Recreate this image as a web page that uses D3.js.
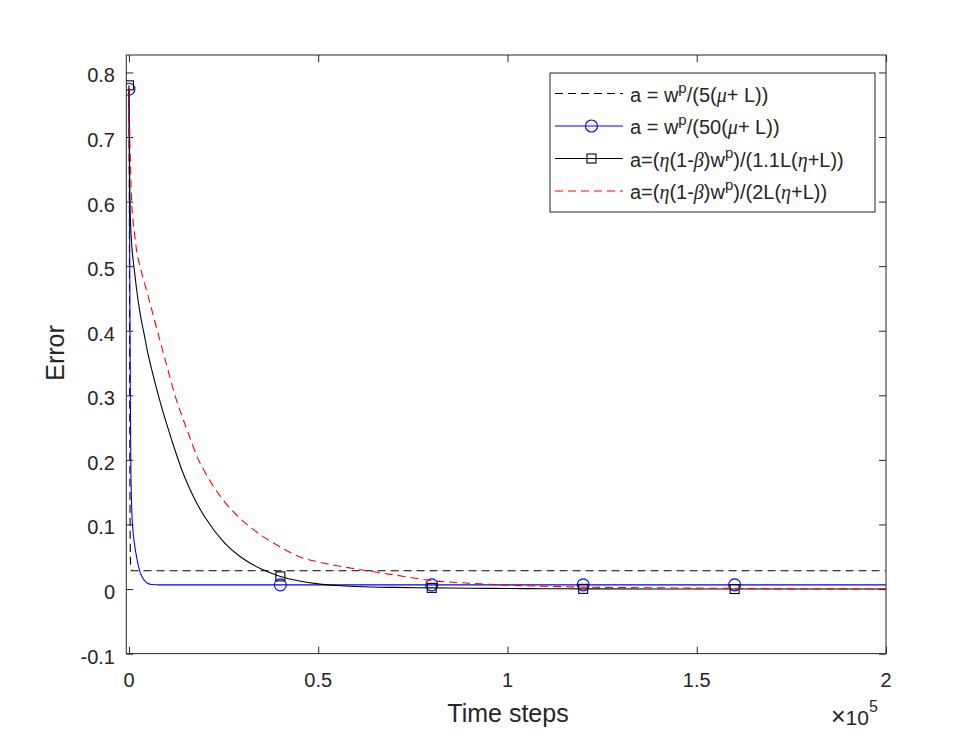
<!DOCTYPE html>
<html>
<head>
<meta charset="utf-8">
<script src="https://cdn.jsdelivr.net/npm/d3@7"></script>
<style>
  body { margin: 0; background: #fff; }
  svg { display: block; }
  text { font-family: "Liberation Sans", Arial, sans-serif; fill: #262626; }
</style>
</head>
<body>
<svg id="chart"></svg>
<script>
var steps = [0, 100, 200, 300, 400, 500, 700, 1000, 1500, 2000,
    3000, 4000, 5000, 6000, 8000, 10000, 12000, 14000, 16000, 18000,
    20000, 25000, 30000, 35000, 40000, 45000, 50000, 55000, 60000, 70000,
    80000, 90000, 100000, 110000, 120000, 140000, 160000, 180000, 200000];

// a = w^p/(5(mu+L))
var errA5 = [0.775, 0.60, 0.30, 0.10, 0.045, 0.033, 0.0288, 0.0284, 0.0283, 0.0283,
    0.0283, 0.0283, 0.0283, 0.0283, 0.0283, 0.0283, 0.0283, 0.0283, 0.0283, 0.0283,
    0.0283, 0.0283, 0.0283, 0.0283, 0.0283, 0.0283, 0.0283, 0.0283, 0.0283, 0.0283,
    0.0283, 0.0283, 0.0283, 0.0283, 0.0283, 0.0283, 0.0283, 0.0283, 0.0283];

// a = w^p/(50(mu+L))
var errA50 = [0.774, 0.68, 0.52, 0.38, 0.27, 0.19, 0.13, 0.095, 0.068, 0.05,
    0.025, 0.014, 0.0085, 0.007, 0.0065, 0.0065, 0.0065, 0.0065, 0.0065, 0.0065,
    0.0065, 0.0065, 0.0065, 0.0065, 0.0065, 0.0065, 0.0065, 0.0065, 0.0065, 0.0065,
    0.0065, 0.0065, 0.0065, 0.0065, 0.0065, 0.0065, 0.0065, 0.0065, 0.0065];

// a = (eta(1-beta)w^p)/(1.1L(eta+L))
var errEta11 = [0.78, 0.70, 0.63, 0.59, 0.57, 0.555, 0.535, 0.515, 0.49, 0.465,
    0.425, 0.395, 0.365, 0.34, 0.295, 0.255, 0.218, 0.184, 0.156, 0.132,
    0.112, 0.073, 0.0476, 0.031, 0.0195, 0.0125, 0.008, 0.0055, 0.004, 0.0025,
    0.0018, 0.0012, 0.0008, 0.0005, 0.0003, 0.0001, 0, 0, 0];

// a = (eta(1-beta)w^p)/(2L(eta+L))
var errEta2 = [0.775, 0.74, 0.71, 0.68, 0.66, 0.635, 0.60, 0.575, 0.55, 0.525,
    0.498, 0.476, 0.455, 0.433, 0.389, 0.346, 0.303, 0.268, 0.236, 0.205,
    0.182, 0.137, 0.106, 0.083, 0.065, 0.050, 0.042, 0.036, 0.031, 0.022,
    0.013, 0.009, 0.006, 0.0043, 0.003, 0.0018, 0.001, 0.0004, 0];

var markerSteps = [0, 40000, 80000, 120000, 160000];

var xTicks = [0, 50000, 100000, 150000, 200000];
var xTickLabels = ['0', '0.5', '1', '1.5', '2'];
var yTicks = [-0.1, 0, 0.1, 0.2, 0.3, 0.4, 0.5, 0.6, 0.7, 0.8];
var yTickLabels = ['-0.1', '0', '0.1', '0.2', '0.3', '0.4', '0.5', '0.6', '0.7', '0.8'];

// legend labels: [text, kind] with n = normal, g = greek (italic), s = superscript
var legendLabels = [
    [['a = w', 'n'], ['p', 's'], ['/(5(', 'n'], ['\u03BC', 'g'], ['+ L))', 'n']],
    [['a = w', 'n'], ['p', 's'], ['/(50(', 'n'], ['\u03BC', 'g'], ['+ L))', 'n']],
    [['a=(', 'n'], ['\u03B7', 'g'], ['(1-', 'n'], ['\u03B2', 'g'], [')w', 'n'], ['p', 's'],
     [')/(1.1L(', 'n'], ['\u03B7', 'g'], ['+L))', 'n']],
    [['a=(', 'n'], ['\u03B7', 'g'], ['(1-', 'n'], ['\u03B2', 'g'], [')w', 'n'], ['p', 's'],
     [')/(2L(', 'n'], ['\u03B7', 'g'], ['+L))', 'n']]
];

var series = [
    { values: errA5, color: '#000000', dash: '8,5', marker: null },
    { values: errA50, color: '#0000ff', dash: null, marker: 'circle' },
    { values: errEta11, color: '#000000', dash: null, marker: 'square' },
    { values: errEta2, color: '#ff0000', dash: '8,5', marker: null }
];

var svgWidth = 980, svgHeight = 735;
var box = { left: 126.3, right: 886, top: 55, bottom: 653.6 };

var svg = d3.select('#chart')
    .attr('width', svgWidth)
    .attr('height', svgHeight);

svg.append('rect').attr('width', svgWidth).attr('height', svgHeight).attr('fill', '#fff');

var x = d3.scaleLinear().domain([-700, 200000]).range([box.left, box.right]);
var y = d3.scaleLinear().domain([-0.1, 0.827]).range([box.bottom, box.top]);

svg.append('clipPath').attr('id', 'plotClip')
    .append('rect')
    .attr('x', box.left).attr('y', box.top)
    .attr('width', box.right - box.left).attr('height', box.bottom - box.top);

// axes with inward ticks on all four sides
var tickLen = 7;
var axisColor = '#262626';

svg.append('g')
    .attr('transform', 'translate(0,' + box.bottom + ')')
    .call(d3.axisBottom(x).tickValues(xTicks).tickSizeInner(-tickLen).tickSizeOuter(0).tickFormat(''))
    .call(g => g.select('.domain').remove())
    .selectAll('line').attr('stroke', axisColor);

svg.append('g')
    .attr('transform', 'translate(0,' + box.top + ')')
    .call(d3.axisTop(x).tickValues(xTicks).tickSizeInner(-tickLen).tickSizeOuter(0).tickFormat(''))
    .call(g => g.select('.domain').remove())
    .selectAll('line').attr('stroke', axisColor);

svg.append('g')
    .attr('transform', 'translate(' + box.left + ',0)')
    .call(d3.axisLeft(y).tickValues(yTicks).tickSizeInner(-tickLen).tickSizeOuter(0).tickFormat(''))
    .call(g => g.select('.domain').remove())
    .selectAll('line').attr('stroke', axisColor);

svg.append('g')
    .attr('transform', 'translate(' + box.right + ',0)')
    .call(d3.axisRight(y).tickValues(yTicks).tickSizeInner(-tickLen).tickSizeOuter(0).tickFormat(''))
    .call(g => g.select('.domain').remove())
    .selectAll('line').attr('stroke', axisColor);

// tick labels
svg.append('g').selectAll('text')
    .data(xTicks)
    .enter().append('text')
    .attr('x', d => x(d))
    .attr('y', 687)
    .attr('text-anchor', 'middle')
    .style('font-size', '20px')
    .text((d, i) => xTickLabels[i]);

svg.append('g').selectAll('text')
    .data(yTicks)
    .enter().append('text')
    .attr('x', 115)
    .attr('y', d => y(d) + 10)
    .attr('text-anchor', 'end')
    .style('font-size', '20px')
    .text((d, i) => yTickLabels[i]);

// curves
var plot = svg.append('g').attr('clip-path', 'url(#plotClip)');

var line = d3.line()
    .x(function(d, i) { return x(steps[i]); })
    .y(function(d) { return y(d); })
    .curve(d3.curveMonotoneX);

series.forEach(function(s) {
    var path = plot.append('path')
        .datum(s.values)
        .attr('fill', 'none')
        .attr('stroke', s.color)
        .attr('stroke-width', 1.1)
        .attr('d', line);
    if (s.dash) path.attr('stroke-dasharray', s.dash);

    var pts = markerSteps.map(function(t) { return { t: t, v: s.values[steps.indexOf(t)] }; });
    if (s.marker === 'circle') {
        plot.selectAll(null).data(pts).enter().append('circle')
            .attr('cx', d => x(d.t)).attr('cy', d => y(d.v)).attr('r', 6)
            .attr('fill', 'none').attr('stroke', s.color).attr('stroke-width', 1.1);
    } else if (s.marker === 'square') {
        plot.selectAll(null).data(pts).enter().append('rect')
            .attr('x', d => x(d.t) - 4.5).attr('y', d => y(d.v) - 4.5)
            .attr('width', 9).attr('height', 9)
            .attr('fill', 'none').attr('stroke', s.color).attr('stroke-width', 1.1);
    }
});

// axes box
svg.append('rect')
    .attr('x', box.left).attr('y', box.top)
    .attr('width', box.right - box.left).attr('height', box.bottom - box.top)
    .attr('fill', 'none').attr('stroke', axisColor).attr('stroke-width', 1);

// axis labels
svg.append('text')
    .attr('x', 508).attr('y', 722)
    .attr('text-anchor', 'middle')
    .style('font-size', '25px')
    .text('Time steps');

svg.append('text')
    .attr('transform', 'translate(64,353) rotate(-90)')
    .attr('text-anchor', 'middle')
    .style('font-size', '25px')
    .text('Error');

// exponent label
var expo = svg.append('text')
    .attr('x', 831).attr('y', 725);
expo.append('tspan').style('font-size', '25px').style('font-weight', '300').text('\u00D7');
expo.append('tspan').style('font-size', '21px').text('10');
expo.append('tspan').attr('dy', -13).style('font-size', '16px').text('5');

// legend
var legend = svg.append('g');
legend.append('rect')
    .attr('x', 550).attr('y', 73).attr('width', 325).attr('height', 139)
    .attr('fill', '#fff').attr('stroke', axisColor).attr('stroke-width', 1);

series.forEach(function(s, i) {
    var ly = 93.5 + i * 32.5;
    var l = legend.append('line')
        .attr('x1', 555).attr('x2', 623).attr('y1', ly).attr('y2', ly)
        .attr('stroke', s.color).attr('stroke-width', 1.1);
    if (s.dash) l.attr('stroke-dasharray', s.dash);
    if (s.marker === 'circle') {
        legend.append('circle').attr('cx', 591.5).attr('cy', ly).attr('r', 6)
            .attr('fill', 'none').attr('stroke', s.color).attr('stroke-width', 1.1);
    } else if (s.marker === 'square') {
        legend.append('rect').attr('x', 587).attr('y', ly - 4.5).attr('width', 9).attr('height', 9)
            .attr('fill', 'none').attr('stroke', s.color).attr('stroke-width', 1.1);
    }

    var t = legend.append('text')
        .attr('x', 630).attr('y', ly + 8)
        .style('font-size', '20px');
    var raised = false;
    legendLabels[i].forEach(function(part) {
        var sp = t.append('tspan').text(part[0]);
        if (part[1] === 's') {
            sp.attr('dy', -9).style('font-size', '15px');
            raised = true;
        } else {
            if (raised) { sp.attr('dy', 9); raised = false; }
            if (part[1] === 'g') {
                sp.style('font-family', '"Liberation Serif", "DejaVu Serif", serif')
                  .style('font-style', 'italic');
            }
        }
    });
});
</script>
</body>
</html>
